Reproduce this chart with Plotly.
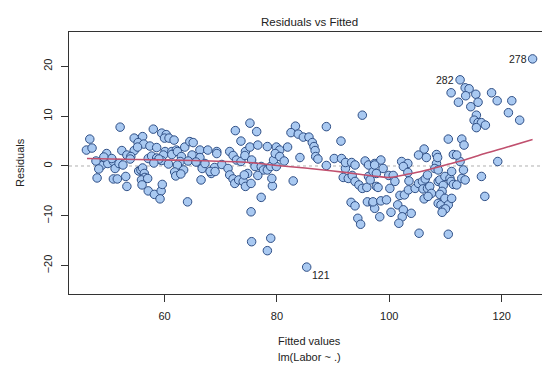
import plotly.graph_objects as go

# Residuals vs fitted values
fitted = [
 46.1, 47.1, 46.7, 52.1, 58.0, 59.5, 60.3, 60.0, 60.8, 61.7, 54.6, 56.1, 55.3, 56.3, 57.4, 58.6,
 52.4, 54.6, 55.2, 63.6, 64.5, 65.1, 66.3, 67.7, 69.3, 60.1, 61.3, 62.1, 49.7,
 48.8, 49.9, 50.9, 50.6, 51.2, 51.9, 50.9, 51.6, 53.1, 53.3, 53.3, 54.0, 53.9,
 55.4, 55.8, 56.1, 56.4, 56.2, 56.5, 55.9, 57.0,
 56.0, 57.1, 58.2, 59.4, 59.2, 59.6,
 57.1, 57.7, 58.6, 59.8, 59.5, 59.0,
 61.3, 62.3, 63.0, 62.8, 62.3, 64.1,
 64.9, 66.3, 66.6, 66.7, 66.5, 68.3, 68.9, 69.3,
 47.8, 48.3, 49.2, 60.7, 61.8, 63.4, 64.2, 62.0, 65.6, 67.2, 70.2, 48.0, 52.6, 58.1, 62.9,
 71.6, 74.4, 75.2, 76.6, 78.3, 79.9, 80.5, 81.9, 73.6, 72.6, 75.2, 76.4,
 72.2, 72.8, 73.6, 74.3, 75.5, 76.1, 77.2, 77.6, 78.3, 78.9, 79.9, 79.4, 79.7, 80.5, 81.3,
 71.3, 71.6, 72.2, 72.5, 73.2, 74.0, 74.4, 75.4, 74.8, 74.2, 76.6, 68.1, 69.0,
 83.3, 82.5, 83.8, 84.7, 85.7, 86.3, 86.6, 86.8, 88.8, 91.4, 84.1, 86.9, 87.3, 88.8, 90.2, 91.5,
 82.9, 79.2, 79.1, 77.2, 75.4, 75.5, 78.9, 78.3, 85.3, 95.2,
 92.2, 91.8, 92.7, 93.4, 93.9, 94.6, 95.2, 96.0, 93.2, 93.9, 94.4, 94.9, 96.1, 97.1, 97.4,
 96.3, 97.1, 97.7, 92.2, 93.3, 93.9, 95.7, 96.3, 97.4,
 98.5, 98.9, 97.4, 97.7, 96.6, 99.9, 100.7, 101.0, 100.1, 98.0, 97.1, 98.5, 99.5, 98.3,
 100.3, 101.5, 102.5, 102.3, 101.7, 103.9, 103.5, 101.9, 102.7, 103.4, 104.6, 105.2, 105.9,
 106.4, 106.8, 106.0, 106.8, 107.2, 107.5, 106.2, 106.9, 108.7, 109.0, 109.9, 110.8, 111.1,
 111.0, 111.4, 112.0, 112.9, 113.5, 109.6, 109.4, 109.0, 108.7, 109.2, 109.9, 110.5, 111.1,
 109.6, 110.0, 109.4,
 102.2, 103.3, 102.5, 103.3, 105.3, 110.5, 116.4, 117.0, 113.2, 108.4, 108.1, 108.7, 119.3,
 112.6, 106.2, 105.2, 108.4, 111.4, 106.6, 108.6, 112.0, 110.5, 112.9, 113.3,
 125.5, 112.6, 113.5, 114.2, 111.0, 113.6, 115.4, 112.3, 114.5, 115.8, 118.2, 119.2, 121.8,
 121.2, 123.2, 115.5, 115.1, 115.8, 116.4, 117.1, 115.5,
]
residuals = [
 3.2, 3.6, 5.4, 7.8, 7.4, 6.6, 6.3, 5.6, 5.6, 5.2, 5.6, 5.9, 4.7, 4.4, 4.0, 3.7,
 3.1, 3.1, 3.8, 3.8, 4.9, 4.7, 3.2, 3.2, 2.9, 2.9, 2.9, 3.2, 2.5,
 0.1, 0.5, 0.9, 1.5, -0.5, 0.5, -2.6, -2.6, -2.1, -4.1, 2.2, 1.9, 1.4,
 -1.0, -0.8, -0.4, -1.5, -2.5, -2.3, -2.8, -2.5,
 -3.8, -5.0, -5.7, -5.0, -6.6, -3.7,
 1.5, 2.0, 1.6, 2.2, 1.1, 1.4,
 2.3, 2.9, 1.9, 0.9, 0.2, -7.2,
 2.2, 1.7, 0.2, -0.5, -2.8, -1.5, -0.3, 2.5,
 1.0, -0.6, 1.8, 0.4, -1.2, -0.8, 1.0, -2.0, 0.8, 0.5, 0.3, -2.4, 0.2, 0.6, -1.6,
 2.9, 2.9, 3.8, 4.2, 3.9, 3.8, 3.2, 3.8, 5.0, 7.1, 8.6, 6.9,
 2.1, 1.2, 0.9, 2.1, 1.2, -0.1, -0.1, -0.8, -0.8, -0.1, -0.1, 1.2, 2.5, 1.9, 1.0,
 -0.5, -1.8, -2.6, -3.5, -2.8, -3.1, -4.1, -3.5, -1.5, -1.8, -1.9, -1.1, -1.1,
 8.0, 6.7, 6.4, 5.8, 5.8, 4.7, 3.9, 3.1, 7.9, 5.0, 1.7, 1.9, 1.4, 0.1, 1.5, 1.5,
 -3.0, -4.0, -2.5, -6.3, -9.2, -15.2, -14.5, -17.0, -20.3, 10.2,
 -0.5, -2.3, -2.5, -1.9, -3.1, -3.8, -4.5, -4.3, -7.3, -8.0, -10.5, -11.7, -7.2, -7.5, -8.5,
 -2.1, -1.1, -4.1, 0.7, 0.7, 0.2, 1.0, 0.2, 0.5,
 1.2, -0.5, 0.2, -1.5, -2.8, -1.9, -1.9, -3.1, -4.5, -4.3, -7.2, -7.0, -6.8, -10.2,
 -9.3, -7.8, -8.8, -10.2, -11.5, -9.5, -3.0, -5.9, -5.8, -4.8, -4.5, -3.5, -3.1,
 -2.6, -1.8, -4.6, -4.5, -4.1, -5.5, -6.6, -6.1, -3.1, -2.8, -2.1, -2.5, -1.1,
 -3.1, -3.7, -3.8, -2.5, -2.8, -3.9, -5.1, -5.7, -7.5, -7.8, -6.5, -7.8, -6.5,
 -8.8, -8.6, -9.3,
 0.9, 0.5, -0.1, -1.3, -13.5, -13.7, -2.1, -6.1, -0.8, 0.5, -0.5, -0.8, 0.9,
 0.9, 3.4, 2.2, 2.3, 2.3, 1.7, 1.7, 2.2, 5.4, 5.4, 4.2,
 21.5, 17.3, 15.7, 15.5, 14.7, 14.1, 14.4, 12.8, 11.9, 12.8, 14.7, 13.1, 13.1,
 10.7, 9.2, 10.2, 9.2, 8.7, 8.7, 8.2, 7.7,
]

# Smoother (red line)
smooth_x = [46.2, 55, 65, 75, 80, 85, 90, 95, 98, 100, 103, 106, 110, 113, 117, 121, 125.5]
smooth_y = [1.5, 1.3, 1.1, 0.7, 0.1, -0.4, -1.0, -1.7, -2.1, -2.3, -1.7, -1.0, 0.2, 1.1, 2.5, 3.8, 5.3]

# Labelled observations
label_ids = ["278", "282", "121"]
label_x = [125.5, 112.6, 85.3]
label_y = [21.5, 17.3, -20.3]

x_ticks = [60, 80, 100, 120]
y_ticks = [-20, -10, 0, 10, 20]

FONT = "Liberation Sans, Arial, sans-serif"

fig = go.Figure()
fig.add_trace(go.Scatter(
    x=[43, 128.6], y=[0, 0], mode="lines",
    line=dict(color="#b0b0b0", width=1, dash="dot"), hoverinfo="skip", showlegend=False))
fig.add_trace(go.Scatter(
    x=fitted, y=residuals, mode="markers",
    marker=dict(size=8.5, color="#a9c9f1", line=dict(color="#2f4f86", width=1)),
    showlegend=False))
fig.add_trace(go.Scatter(
    x=smooth_x, y=smooth_y, mode="lines", line=dict(color="#c0506e", width=1.6, shape="spline"),
    showlegend=False))

annotations = []
for lid, lx, ly in zip(label_ids, label_x, label_y):
    if lid == "121":
        annotations.append(dict(x=lx, y=ly, xref="x", yref="y", text=lid, showarrow=False,
                                xanchor="left", yanchor="middle", xshift=3, yshift=-8,
                                font=dict(family=FONT, size=10.5, color="#222")))
    else:
        annotations.append(dict(x=lx, y=ly, xref="x", yref="y", text=lid, showarrow=False,
                                xanchor="right", yanchor="middle", xshift=-4,
                                font=dict(family=FONT, size=10.5, color="#222")))

annotations += [
    dict(x=0.5, y=1, xref="paper", yref="paper", text="Residuals vs Fitted", showarrow=False,
         xanchor="center", yanchor="middle", yshift=10, font=dict(family=FONT, size=11.5, color="#222")),
    dict(x=0.5, y=0, xref="paper", yref="paper", text="Fitted values", showarrow=False,
         xanchor="center", yanchor="middle", yshift=-47, font=dict(family=FONT, size=11, color="#222")),
    dict(x=0.5, y=0, xref="paper", yref="paper", text="lm(Labor ~ .)", showarrow=False,
         xanchor="center", yanchor="middle", yshift=-63, font=dict(family=FONT, size=11, color="#222")),
    dict(x=0, y=0.5, xref="paper", yref="paper", text="Residuals", showarrow=False, textangle=-90,
         xanchor="center", yanchor="middle", xshift=-49, font=dict(family=FONT, size=11, color="#222")),
]

axis_common = dict(showgrid=False, zeroline=False, showline=True, mirror=True,
                   linecolor="#333", linewidth=1, ticks="outside", ticklen=7,
                   tickcolor="#333", tickfont=dict(family=FONT, size=11, color="#222"))

fig.update_layout(
    width=550, height=365,
    margin=dict(l=61, r=8, t=24, b=79),
    paper_bgcolor="white", plot_bgcolor="white",
    xaxis=dict(range=[43.0, 128.6], tickvals=x_ticks, ticklabelstandoff=5, **axis_common),
    yaxis=dict(range=[-25.7, 26.9], tickvals=y_ticks, tickangle=-90, ticklabelstandoff=5, **axis_common),
    annotations=annotations,
    showlegend=False,
)
fig.write_html("out.html")
